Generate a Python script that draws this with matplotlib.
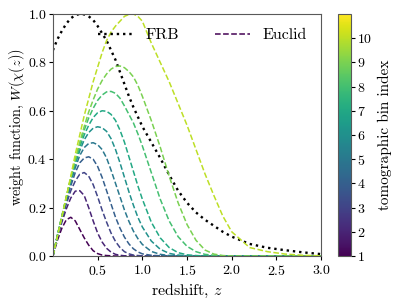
import numpy as np
import matplotlib
matplotlib.use("Agg")
import matplotlib.pyplot as plt
from matplotlib.colors import Normalize
from matplotlib.cm import ScalarMappable

plt.rcParams['font.family'] = 'serif'
plt.rcParams['font.serif'] = ['cmr10']
plt.rcParams['mathtext.fontset'] = 'cm'
plt.rcParams['axes.formatter.use_mathtext'] = True
plt.rcParams['font.size'] = 11.5
plt.rcParams['xtick.labelsize'] = 10
plt.rcParams['ytick.labelsize'] = 10
plt.rcParams['xtick.major.size'] = 3
plt.rcParams['ytick.major.size'] = 3
plt.rcParams['xtick.major.pad'] = 2.5
plt.rcParams['ytick.major.pad'] = 1.5

# redshift grid shared by all curves
z = [0.0, 0.05, 0.1, 0.15, 0.2, 0.25, 0.3, 0.35, 0.4, 0.45, 0.5,
     0.55, 0.6, 0.65, 0.7, 0.75, 0.8, 0.85, 0.9, 0.95, 1.0,
     1.1, 1.2, 1.3, 1.4, 1.5, 1.6, 1.7, 1.8, 1.9, 2.0,
     2.2, 2.4, 2.6, 2.8, 3.0]

# FRB weight function
w_frb = [0.85, 0.895, 0.93, 0.96, 0.982, 0.995, 1.0, 0.998, 0.99, 0.975, 0.95,
         0.92, 0.89, 0.85, 0.81, 0.76, 0.71, 0.66, 0.615, 0.575, 0.535,
         0.47, 0.405, 0.335, 0.27, 0.22, 0.18, 0.15, 0.125, 0.10, 0.08,
         0.05, 0.034, 0.024, 0.015, 0.008]

# Euclid tomographic bins 1..10
w_bin1 = [0, .065, .115, .15, .16, .145, .11, .075, .045, .022, .01,
          .004, .002, .001, 0, 0, 0, 0, 0, 0, 0,
          0, 0, 0, 0, 0, 0, 0, 0, 0, 0, 0, 0, 0, 0, 0]
w_bin2 = [0, .075, .14, .195, .24, .268, .27, .25, .20, .145, .095,
          .058, .032, .016, .007, .003, .001, 0, 0, 0, 0,
          0, 0, 0, 0, 0, 0, 0, 0, 0, 0, 0, 0, 0, 0, 0]
w_bin3 = [0, .08, .15, .215, .27, .31, .338, .345, .33, .295, .245,
          .19, .14, .095, .06, .035, .018, .009, .004, .002, .001,
          0, 0, 0, 0, 0, 0, 0, 0, 0, 0, 0, 0, 0, 0, 0]
w_bin4 = [0, .082, .155, .225, .29, .345, .385, .405, .41, .40, .37,
          .325, .27, .215, .16, .115, .078, .05, .03, .017, .009,
          .003, .001, 0, 0, 0, 0, 0, 0, 0, 0, 0, 0, 0, 0, 0]
w_bin5 = [0, .083, .16, .235, .305, .365, .415, .448, .465, .468, .46,
          .44, .405, .355, .30, .245, .19, .143, .103, .072, .048,
          .019, .007, .002, .001, 0, 0, 0, 0, 0, 0, 0, 0, 0, 0, 0]
w_bin6 = [0, .084, .162, .24, .315, .38, .435, .48, .51, .528, .534,
          .53, .515, .485, .44, .385, .325, .265, .21, .16, .12,
          .062, .028, .011, .004, .001, 0, 0, 0, 0, 0, 0, 0, 0, 0, 0]
w_bin7 = [0, .085, .163, .242, .32, .39, .45, .50, .54, .572, .592,
          .60, .598, .585, .56, .52, .47, .41, .35, .29, .235,
          .14, .075, .035, .014, .005, .002, 0, 0, 0, 0, 0, 0, 0, 0, 0]
w_bin8 = [0, .085, .164, .244, .322, .395, .46, .52, .57, .61, .643,
          .665, .678, .68, .672, .652, .62, .585, .55, .505, .455,
          .345, .235, .145, .08, .04, .018, .007, .003, .001, 0, 0, 0, 0, 0, 0]
w_bin9 = [0, .085, .165, .245, .325, .40, .47, .535, .595, .645, .69,
          .725, .752, .772, .783, .785, .778, .762, .74, .705, .66,
          .56, .45, .33, .22, .13, .065, .025, .008, .002, 0,
          0, 0, 0, 0, 0]
w_bin10 = [0, .08, .16, .245, .33, .42, .50, .58, .65, .72, .78,
           .84, .89, .925, .95, .97, .99, .998, 1.0, .99, .97,
           .88, .80, .72, .63, .54, .44, .34, .25, .165, .10,
           .035, .018, .008, .003, .001]

euclid_bins = [w_bin1, w_bin2, w_bin3, w_bin4, w_bin5,
               w_bin6, w_bin7, w_bin8, w_bin9, w_bin10]
bin_index = [1, 2, 3, 4, 5, 6, 7, 8, 9, 10]
cbar_ticks = [1, 2, 3, 4, 5, 6, 7, 8, 9, 10]

fig = plt.figure(figsize=(4.04, 3.03), dpi=100)
ax = fig.add_axes([0.131, 0.155, 0.664, 0.799])
cax = fig.add_axes([0.837, 0.155, 0.032, 0.799])

norm = Normalize(vmin=1, vmax=11)
cmap = plt.get_cmap('viridis')

ax.plot(z, w_frb, ':', color='k', lw=1.7, label='FRB')
for i, w in zip(bin_index, euclid_bins):
    ax.plot(z, w, '--', color=cmap(norm(i)), lw=1.1,
            label='Euclid' if i == 1 else None)

ax.set_xlim(0, 3)
ax.set_ylim(0, 1)
ax.set_xticks([0.5, 1.0, 1.5, 2.0, 2.5, 3.0])
ax.set_yticks([0.0, 0.2, 0.4, 0.6, 0.8, 1.0])
ax.set_xlabel('redshift, $z$', labelpad=3)
ax.set_ylabel(r'weight function, $W(\chi(z))$', fontsize=10.3)
ax.yaxis.set_label_coords(-0.097, 0.531)
ax.legend(ncol=2, frameon=False, loc='upper right', handlelength=2.2,
          columnspacing=2.2)
for s in ax.spines.values():
    s.set_color('0.35')

sm = ScalarMappable(norm=norm, cmap=cmap)
cb = fig.colorbar(sm, cax=cax, ticks=cbar_ticks)
cb.set_label('tomographic bin index', fontsize=11)
cb.outline.set_edgecolor('0.35')

fig.savefig('out.png', dpi=100)
